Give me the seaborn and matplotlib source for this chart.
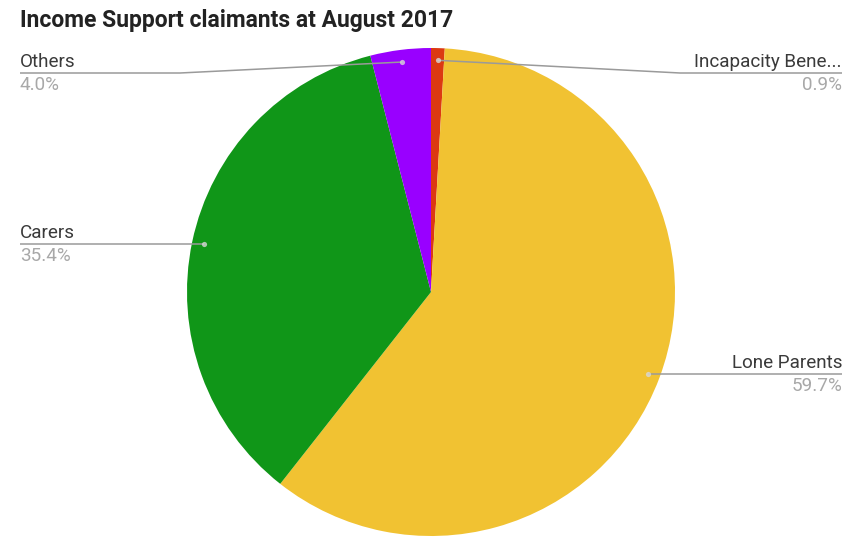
import numpy as np
import matplotlib
matplotlib.use("Agg")
import matplotlib.pyplot as plt
import seaborn as sns

# Income Support claimants by group, August 2017 (share of total, %)
categories = ["Incapacity Bene...", "Lone Parents", "Carers", "Others"]
shares = [0.9, 59.7, 35.4, 4.0]
slice_colors = ["#DC3912", "#F1C232", "#109618", "#9900FF"]
title = "Income Support claimants at August 2017"

sns.set_theme(style="white")
plt.rcParams["font.family"] = ["Roboto", "DejaVu Sans"]
palette = sns.color_palette(slice_colors)

W, H = 860, 539
fig = plt.figure(figsize=(W / 100, H / 100), dpi=100)
ax = fig.add_axes([0, 0, 1, 1])
ax.set_axis_off()

cx, cy, r = 431, H - 292, 244
wedges, _ = ax.pie(shares, colors=palette, startangle=90, counterclock=False,
                   center=(cx, cy), radius=r, frame=True,
                   wedgeprops=dict(linewidth=0))
ax.set_xlim(0, W)
ax.set_ylim(0, H)
ax.set_aspect("equal")
ax.set_axis_off()

line_col = "#9a9a9a"
name_col = "#3a3a3a"
pct_col = "#a8a8a8"
left_x, right_x = 20, 842
top_limit = H - 73
label_size = 13.6

for w, name, val in zip(wedges, categories, shares):
    mid = np.deg2rad((w.theta1 + w.theta2) / 2)
    dx, dy = np.cos(mid), np.sin(mid)
    px, py = cx + 0.95 * r * dx, cy + 0.95 * r * dy
    ly = min(py, top_limit)
    if dx < 0:
        x_end, x_knee, ha = left_x, 180, "left"
    else:
        x_end, x_knee, ha = right_x, 680, "right"
    if abs(ly - py) > 0.5:
        ax.plot([x_end, x_knee, px], [ly, ly, py], color=line_col, lw=1.1,
                solid_capstyle="butt", zorder=3)
    else:
        ax.plot([x_end, px], [ly, py], color=line_col, lw=1.1,
                solid_capstyle="butt", zorder=3)
    ax.scatter([px], [py], s=14, color="#d8d8d8", alpha=0.8, zorder=4,
               linewidths=0)
    ax.text(x_end, ly + 6, name, ha=ha, va="baseline", fontsize=label_size,
            color=name_col)
    ax.text(x_end, ly - 17, f"{val:.1f}%", ha=ha, va="baseline",
            fontsize=label_size, color=pct_col)

fig.text(20 / W, 1 - 27 / H, title, ha="left", va="baseline", fontsize=16.5,
         fontweight="bold", color="#222222")

fig.savefig("out.png", dpi=100, facecolor="white")
